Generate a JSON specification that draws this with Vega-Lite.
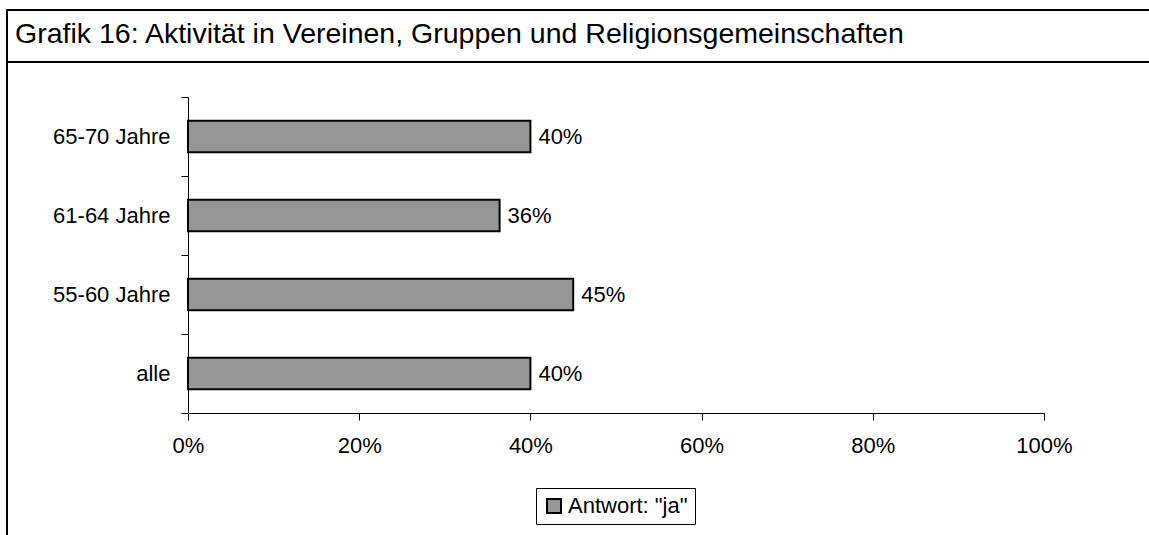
{
  "$schema": "https://vega.github.io/schema/vega-lite/v6.json",
  "autosize": {"type": "none"},
  "padding": {"left": 7, "top": 10, "right": 1142, "bottom": 525},
  "background": "white",
  "spacing": 0,
  "bounds": "flush",
  "config": {
    "font": "Liberation Sans",
    "concat": {"spacing": 0},
    "view": {"stroke": "black", "strokeWidth": 2},
    "axis": {
      "labelFont": "Liberation Sans",
      "labelFontSize": 22,
      "labelColor": "black",
      "domainColor": "black",
      "domainWidth": 1,
      "tickColor": "black",
      "tickWidth": 1,
      "grid": false,
      "title": null
    },
    "legend": {
      "labelFont": "Liberation Sans",
      "labelFontSize": 22,
      "labelColor": "black",
      "symbolStrokeColor": "black",
      "symbolStrokeWidth": 2
    }
  },
  "vconcat": [
    {
      "width": 1160,
      "height": 52,
      "data": {"values": [{"titel": "Grafik 16: Aktivität in Vereinen, Gruppen und Religionsgemeinschaften"}]},
      "mark": {"type": "text", "align": "left", "baseline": "alphabetic", "dx": 8, "dy": 7, "fontSize": 28.5, "font": "Liberation Sans", "color": "black"},
      "encoding": {
        "x": {"datum": 0, "type": "quantitative", "scale": {"domain": [0, 1]}, "axis": null},
        "text": {"field": "titel", "type": "nominal"}
      }
    },
    {
      "width": 1160,
      "height": 500,
      "data": {
        "values": [
          {"gruppe": "65-70 Jahre", "wert": 0.40, "serie": "Antwort: \"ja\""},
          {"gruppe": "61-64 Jahre", "wert": 0.364, "serie": "Antwort: \"ja\""},
          {"gruppe": "55-60 Jahre", "wert": 0.45, "serie": "Antwort: \"ja\""},
          {"gruppe": "alle", "wert": 0.40, "serie": "Antwort: \"ja\""}
        ]
      },
      "encoding": {
        "y": {
          "field": "gruppe",
          "type": "nominal",
          "sort": ["65-70 Jahre", "61-64 Jahre", "55-60 Jahre", "alle"],
          "scale": {"range": [35, 351], "paddingInner": 0, "paddingOuter": 0},
          "axis": {"offset": -181, "tickBand": "extent", "tickSize": 7, "labelPadding": 11}
        },
        "x": {
          "field": "wert",
          "type": "quantitative",
          "scale": {"domain": [0, 1], "range": [181, 1037]},
          "axis": {"values": [0, 0.2, 0.4, 0.6, 0.8, 1], "format": ".0%", "offset": -149, "tickSize": 7, "labelPadding": 15, "labelFlush": false}
        }
      },
      "layer": [
        {
          "mark": {"type": "bar", "stroke": "black", "strokeWidth": 2, "height": {"band": 0.4}},
          "encoding": {
            "color": {
              "field": "serie",
              "type": "nominal",
              "scale": {"range": ["#969696"]},
              "legend": {
                "orient": "none",
                "legendX": 529,
                "legendY": 478,
                "title": null,
                "symbolType": "square",
                "symbolSize": 196,
                "strokeColor": "black",
                "fillColor": "white",
                "padding": 7,
                "labelOffset": 3
              }
            }
          }
        },
        {
          "mark": {"type": "text", "align": "left", "baseline": "middle", "dx": 8, "fontSize": 22, "font": "Liberation Sans", "color": "black"},
          "encoding": {
            "text": {"field": "wert", "type": "quantitative", "format": ".0%"}
          }
        }
      ]
    }
  ]
}
